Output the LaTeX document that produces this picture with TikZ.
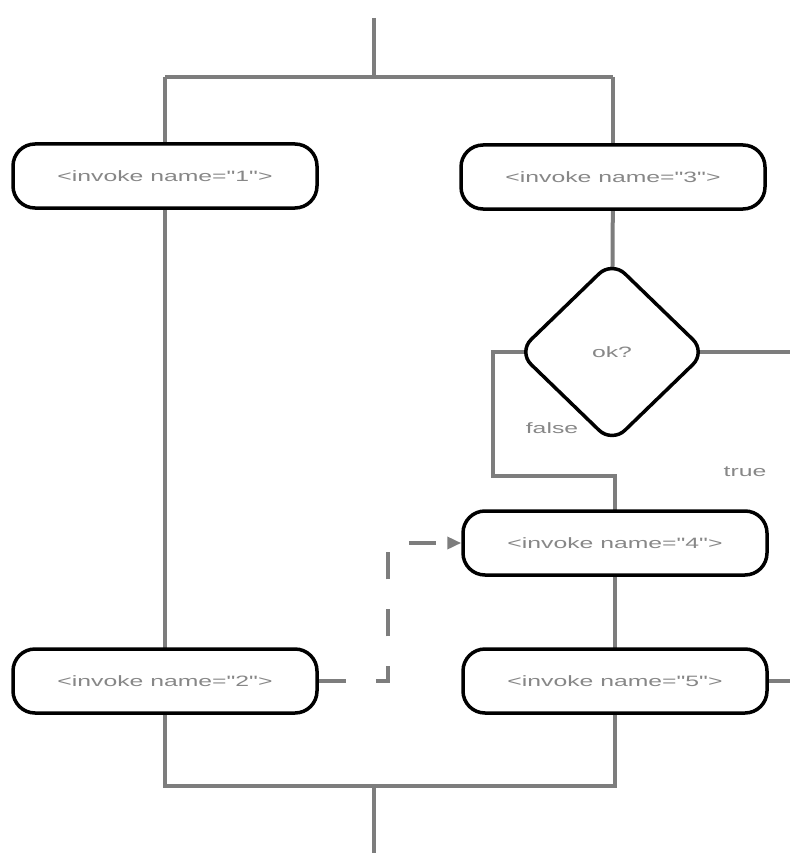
\documentclass[tikz,border=0pt]{standalone}
\usepackage{fontspec}
\setmainfont{Liberation Sans}[Ligatures=TeXOff]
\usetikzlibrary{shapes.geometric,arrows.meta,backgrounds}
\definecolor{linegray}{RGB}{125,125,125}
\definecolor{textgray}{RGB}{135,135,135}
\newcommand\lbl[1]{\scalebox{1.65}[1]{#1}}
\begin{document}
\begin{tikzpicture}[x=1pt,y=-1pt,
  act/.style={draw=black,line width=3.5pt,rounded corners=22pt,fill=white,
    minimum width=304pt,minimum height=64pt,inner sep=0pt,
    font=\fontsize{15}{18}\selectfont,text=textgray},
  decide/.style={draw=black,line width=3.5pt,diamond,rounded corners=18pt,fill=white,
    minimum width=189pt,minimum height=183pt,inner sep=0pt,
    font=\fontsize{15}{18}\selectfont,text=textgray},
  flow/.style={draw=linegray,line width=4pt},
  dflow/.style={draw=linegray,line width=4pt,dash pattern=on 27pt off 30pt,
    -{Triangle[length=14pt,width=12pt]}},
  lbltext/.style={font=\fontsize{15}{18}\selectfont,text=textgray,inner sep=0pt}]
\useasboundingbox (0,0) rectangle (789,853);
% coordinates
\coordinate (top) at (374,18);
\coordinate (fork) at (374,77);
\coordinate (fl) at (165,77);
\coordinate (fr) at (613,77);
\coordinate (bl) at (165,786);
\coordinate (br) at (615,786);
\coordinate (join) at (374,786);
\coordinate (bot) at (374,860);
\coordinate (fb) at (493,476);
\coordinate (t1) at (793,352);
\coordinate (t2) at (793,681);
\coordinate (da) at (388,681);
\coordinate (db) at (388,543);
% nodes
\node[act] (n1) at (165,176) {\lbl{<invoke name="1">}};
\node[act] (n3) at (613,177) {\lbl{<invoke name="3">}};
\node[act] (n2) at (165,681) {\lbl{<invoke name="2">}};
\node[act] (n4) at (615,543) {\lbl{<invoke name="4">}};
\node[act] (n5) at (615,681) {\lbl{<invoke name="5">}};
\node[decide] (d) at (612,352) {\lbl{ok?}};
% connectors
\begin{scope}[on background layer]
\draw[flow] (top) -- (fork);
\draw[flow] (fl) -- (fr);
\draw[flow] (fl) -- (n1.center);
\draw[flow] (fr) -- (n3.center);
\draw[flow] (n1.center) -- (n2.center);
\draw[flow] (n3.center) -- (d.center);
\draw[flow] (d.center) -| (fb) -| (n4.center);
\draw[flow] (d.center) -- (t1) -- (t2) -- (n5.center);
\draw[flow] (n4.center) -- (n5.center);
\draw[flow] (n2.center) -- (bl) -- (br) -- (n5.center);
\draw[flow] (join) -- (bot);
\end{scope}
\draw[dflow] (n2.east) -- (da) -- (db) -- (n4.west);
\node[lbltext] (lf) at (552,428) {\lbl{false}};
\node[lbltext] (lt) at (745,472) {\lbl{true}};
\end{tikzpicture}
\end{document}
